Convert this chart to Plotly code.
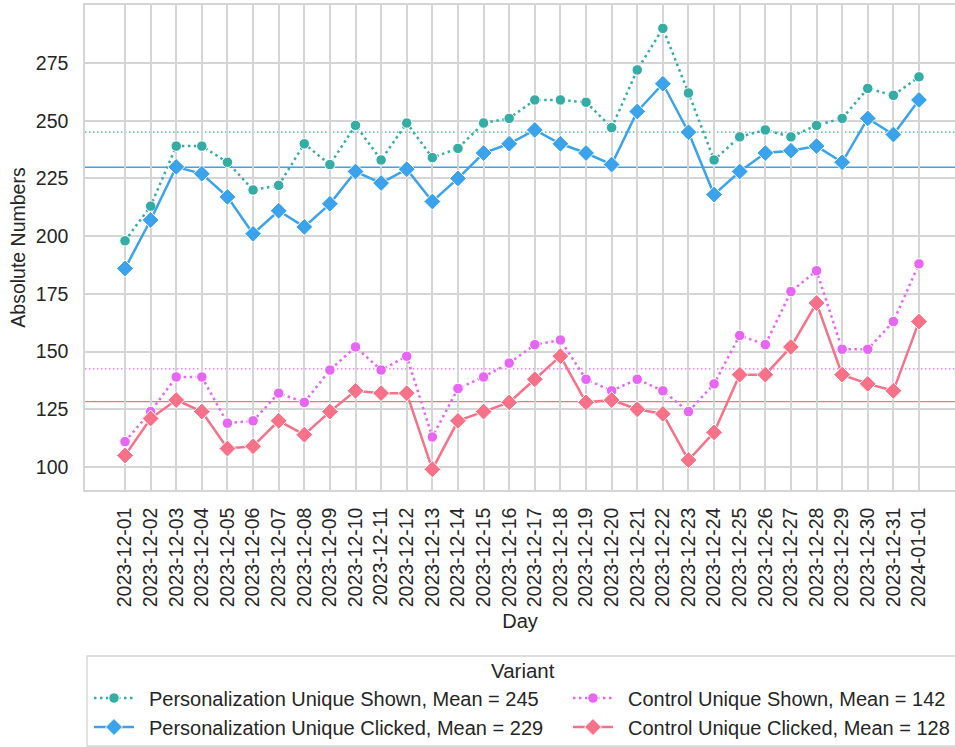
import plotly.graph_objects as go

days = ["2023-12-01","2023-12-02","2023-12-03","2023-12-04","2023-12-05","2023-12-06",
        "2023-12-07","2023-12-08","2023-12-09","2023-12-10","2023-12-11","2023-12-12",
        "2023-12-13","2023-12-14","2023-12-15","2023-12-16","2023-12-17","2023-12-18",
        "2023-12-19","2023-12-20","2023-12-21","2023-12-22","2023-12-23","2023-12-24",
        "2023-12-25","2023-12-26","2023-12-27","2023-12-28","2023-12-29","2023-12-30",
        "2023-12-31","2024-01-01"]

pers_shown = [198,213,239,239,232,220,222,240,231,248,233,249,234,238,249,251,
              259,259,258,247,272,290,262,233,243,246,243,248,251,264,261,269]
pers_clicked = [186,207,230,227,217,201,211,204,214,228,223,229,215,225,236,240,
                246,240,236,231,254,266,245,218,228,236,237,239,232,251,244,259]
ctrl_shown = [111,124,139,139,119,120,132,128,142,152,142,148,113,134,139,145,
              153,155,138,133,138,133,124,136,157,153,176,185,151,151,163,188]
ctrl_clicked = [105,121,129,124,108,109,120,114,124,133,132,132,99,120,124,128,
                138,148,128,129,125,123,103,115,140,140,152,171,140,136,133,163]

y_ticks = [100, 125, 150, 175, 200, 225, 250, 275]

FONT = "Liberation Sans, Arial, sans-serif"
TXT = "#262626"
GRID = "#d5d5d5"

series = [
    # name, values, color, symbol, dash, mean-line dash, legend id
    ("Personalization Unique Shown", pers_shown, "#36ada4", "circle", "2.5px,3.5px", "1.5px,2.5px", "legend"),
    ("Personalization Unique Clicked", pers_clicked, "#3ba3ec", "diamond", "solid", "solid", "legend"),
    ("Control Unique Shown", ctrl_shown, "#e866f4", "circle", "2.5px,3.5px", "1.5px,2.5px", "legend2"),
    ("Control Unique Clicked", ctrl_clicked, "#f77189", "diamond", "solid", "solid", "legend2"),
]

fig = go.Figure()
shapes = []
for i, (name, vals, color, sym, dash, mdash, leg) in enumerate(series):
    mean = sum(vals) / len(vals)
    fig.add_trace(go.Scatter(
        x=days, y=vals, mode="lines+markers",
        name="\u2002" + f"{name}, Mean = {int(mean)}",
        legend=leg, legendgroup=f"g{i}",
        line=dict(color=color, width=2.5, dash=dash),
        marker=dict(symbol=sym, size=10.5 if sym == "circle" else 13, color=color,
                    line=dict(color="white", width=1)),
    ))
    shapes.append(dict(type="line", xref="paper", x0=0, x1=1, yref="y", y0=mean, y1=mean,
                       line=dict(color=color, width=1.3, dash=mdash), layer="below"))

# legend frame
shapes.append(dict(type="rect", xref="paper", yref="paper",
                   x0=(87 - 85) / 870, x1=(965 - 85) / 870,
                   y0=(490 - 656) / 485, y1=(490 - 746) / 485,
                   line=dict(color="#d3d3d3", width=1.3), fillcolor="rgba(0,0,0,0)"))

bottom_y = -257 / 485 + 0.001
leg_common = dict(orientation="v", yanchor="bottom", y=bottom_y,
                  font=dict(size=20, color=TXT), bgcolor="rgba(0,0,0,0)",
                  borderwidth=0, itemwidth=40, tracegroupgap=0)

fig.update_layout(
    width=955, height=747,
    margin=dict(l=85, r=0, t=5, b=257),
    paper_bgcolor="white", plot_bgcolor="white",
    font=dict(family=FONT, size=19, color=TXT),
    shapes=shapes,
    showlegend=True,
    legend=dict(x=(89 - 85) / 870, xanchor="left", **leg_common),
    legend2=dict(x=1.0, xanchor="right", **leg_common),
    annotations=[dict(text="Variant", xref="paper", yref="paper",
                      x=(523 - 85) / 870, y=(490 - 670) / 485,
                      xanchor="center", yanchor="middle", showarrow=False,
                      font=dict(size=20.5, color=TXT))],
    xaxis=dict(
        type="category", categoryorder="array", categoryarray=days,
        range=[-1.562, 32.406], tickmode="array", tickvals=days, ticktext=days,
        tickangle=-90, ticks="", ticklabelstandoff=8, automargin=False,
        showgrid=True, gridcolor=GRID, gridwidth=1.5,
        showline=True, linecolor=GRID, linewidth=1.5, mirror=True,
        zeroline=False,
        title=dict(text="Day", standoff=8, font=dict(size=20)),
        tickfont=dict(size=19.5),
    ),
    yaxis=dict(
        range=[90.04, 300.12], tickmode="array", tickvals=y_ticks,
        ticktext=[str(v) for v in y_ticks], ticks="", ticklabelstandoff=11,
        automargin=False,
        showgrid=True, gridcolor=GRID, gridwidth=1.5,
        showline=True, linecolor=GRID, linewidth=1.5, mirror=True,
        zeroline=False,
        title=dict(text="Absolute Numbers", standoff=5, font=dict(size=19.5)),
        tickfont=dict(size=19.5),
    ),
)

fig.write_html(
    "out.html",
    config={"displayModeBar": False},
    post_script="document.body.style.margin='0';document.body.style.padding='0';",
)
